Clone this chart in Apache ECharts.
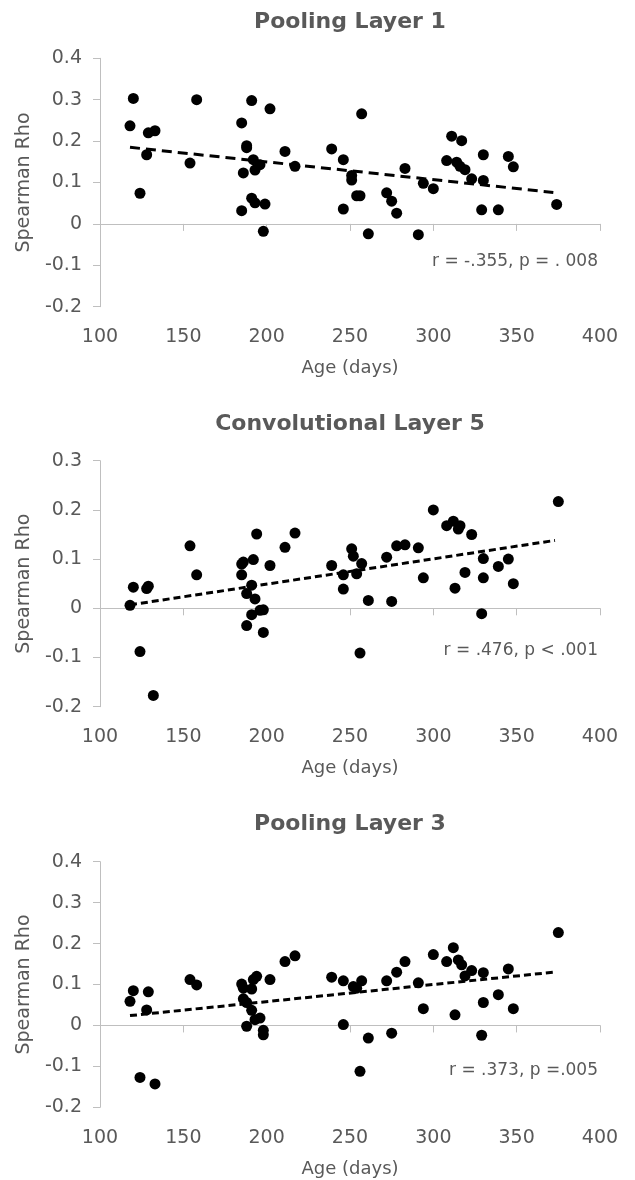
<!DOCTYPE html>
<html lang="en">
<head>
    <meta charset="UTF-8">
    <title>Spearman Rho by age</title>
    <style>
        html, body { margin: 0; padding: 0; background: #fff; }
    </style>
</head>
<body>
<script src="https://cdn.jsdelivr.net/npm/echarts@6/dist/echarts.min.js"></script>

<div id="main" style="width:635px;height:1180px;"></div>

<script type="text/javascript">

    // panel titles and stats text
    var titles = ['Pooling Layer 1', 'Convolutional Layer 5', 'Pooling Layer 3'];
    var statsText = ['r = -.355, p = . 008', 'r = .476, p < .001', 'r = .373, p =.005'];

    // Pooling Layer 1
    var age1 = [118, 120, 124, 128, 129, 133, 154, 158, 185, 185, 186, 188, 188, 191, 191, 192, 193, 193, 196, 198,
        199, 202, 211, 217, 239, 246, 246, 251, 251, 254, 256, 257, 261, 272, 275, 278, 283, 291, 294, 300,
        308, 311, 314, 316, 317, 319, 323, 329, 330, 330, 339, 345, 348, 374];
    var rho1 = [0.237, 0.303, 0.074, 0.167, 0.220, 0.225, 0.147, 0.300, 0.244, 0.032, 0.123, 0.189, 0.184, 0.298, 0.062, 0.155, 0.130, 0.051, 0.143, -0.018,
        0.048, 0.278, 0.175, 0.139, 0.181, 0.155, 0.036, 0.117, 0.106, 0.068, 0.068, 0.266, -0.024, 0.075, 0.055, 0.026, 0.134, -0.026, 0.098, 0.085,
        0.153, 0.212, 0.149, 0.139, 0.201, 0.131, 0.109, 0.034, 0.167, 0.105, 0.034, 0.163, 0.138, 0.047];
    var trend1 = [[118, 0.185], [372, 0.076]];

    // Convolutional Layer 5
    var age2 = [118, 120, 124, 128, 129, 132, 154, 158, 185, 186, 185, 188, 188, 191, 191, 192, 193, 194, 196, 198,
        198, 202, 211, 217, 239, 246, 246, 251, 252, 254, 256, 257, 261, 272, 275, 278, 283, 291, 294, 300,
        308, 312, 313, 315, 316, 319, 323, 329, 330, 330, 339, 345, 348, 375];
    var rho2 = [0.006, 0.043, -0.088, 0.040, 0.045, -0.177, 0.127, 0.068, 0.090, 0.094, 0.068, 0.030, -0.035, 0.047, -0.013, 0.099, 0.019, 0.151, -0.004, -0.003,
        -0.049, 0.087, 0.124, 0.153, 0.087, 0.068, 0.039, 0.121, 0.106, 0.070, -0.091, 0.091, 0.016, 0.104, 0.014, 0.127, 0.129, 0.123, 0.062, 0.200,
        0.168, 0.177, 0.041, 0.161, 0.168, 0.073, 0.150, -0.011, 0.101, 0.062, 0.085, 0.100, 0.050, 0.217];
    var trend2 = [[118, 0.007], [373, 0.138]];

    // Pooling Layer 3
    var age3 = [118, 120, 124, 128, 129, 133, 154, 158, 185, 186, 186, 188, 188, 191, 191, 192, 193, 194, 196, 198,
        198, 202, 211, 217, 239, 246, 246, 252, 254, 256, 257, 261, 272, 275, 278, 283, 291, 294, 300,
        308, 312, 313, 315, 317, 319, 323, 329, 330, 330, 339, 345, 348, 375];
    var rho3 = [0.059, 0.085, -0.127, 0.038, 0.082, -0.143, 0.112, 0.099, 0.101, 0.091, 0.065, 0.056, -0.002, 0.089, 0.037, 0.112, 0.014, 0.120, 0.018, -0.012,
        -0.023, 0.112, 0.156, 0.170, 0.118, 0.109, 0.002, 0.095, 0.091, -0.112, 0.109, -0.031, 0.109, -0.019, 0.130, 0.156, 0.104, 0.041, 0.173,
        0.156, 0.190, 0.026, 0.160, 0.148, 0.121, 0.134, -0.024, 0.129, 0.056, 0.075, 0.138, 0.041, 0.227];
    var trend3 = [[118, 0.024], [372, 0.130]];

    // y axis ranges per panel
    var yMin = [-0.2, -0.2, -0.2];
    var yMax = [0.4, 0.3, 0.4];

    function pairs(xs, ys) {
        var out = [];
        for (var i = 0; i < xs.length; i++) {
            out.push([xs[i], ys[i]]);
        }
        return out;
    }

    var ages = [age1, age2, age3];
    var rhos = [rho1, rho2, rho3];
    var trends = [trend1, trend2, trend3];

    var font = '"DejaVu Sans", Verdana, sans-serif';
    var textColor = '#595959';
    var axisColor = '#bfbfbf';

    var gridTops = [58.3, 460.7, 861.7];
    var gridHeights = [248.4, 246, 245.6];
    var titleY = [22, 424, 824];
    var statsY = [262, 651, 1071];
    var dashes = [[10, 6], [7, 4], [7, 4]];

    var grids = [], xAxes = [], yAxes = [], series = [], graphics = [];

    for (var k = 0; k < 3; k++) {
        grids.push({left: 100, width: 500, top: gridTops[k], height: gridHeights[k]});

        xAxes.push({
            type: 'value',
            gridIndex: k,
            min: 100,
            max: 400,
            interval: 50,
            name: 'Age (days)',
            nameLocation: 'middle',
            nameGap: 53,
            nameTextStyle: {color: textColor, fontSize: 18, fontFamily: font},
            splitLine: {show: false},
            axisLine: {show: true, lineStyle: {color: axisColor, width: 1}},
            axisTick: {show: true, length: 7, lineStyle: {color: axisColor}},
            axisLabel: {color: textColor, fontSize: 19, fontFamily: font, margin: 21}
        });

        yAxes.push({
            type: 'value',
            gridIndex: k,
            min: yMin[k],
            max: yMax[k],
            interval: 0.1,
            name: 'Spearman Rho',
            nameLocation: 'middle',
            nameGap: 66,
            nameTextStyle: {color: textColor, fontSize: 19, fontFamily: font},
            splitLine: {show: false},
            axisLine: {show: true, lineStyle: {color: axisColor, width: 1}},
            axisTick: {show: true, length: 7, lineStyle: {color: axisColor}},
            axisLabel: {
                color: textColor, fontSize: 19, fontFamily: font, margin: 18,
                formatter: function (v) {
                    return String(Math.round(v * 10) / 10);
                }
            }
        });

        series.push({
            type: 'scatter',
            xAxisIndex: k,
            yAxisIndex: k,
            symbolSize: 11,
            itemStyle: {color: '#000', opacity: 1},
            data: pairs(ages[k], rhos[k]),
            z: 3
        });

        series.push({
            type: 'line',
            xAxisIndex: k,
            yAxisIndex: k,
            symbol: 'none',
            lineStyle: {color: '#000', width: 3, type: dashes[k]},
            data: trends[k],
            z: 4
        });

        graphics.push({
            type: 'text',
            x: 350,
            y: titleY[k],
            style: {
                text: titles[k],
                fill: textColor,
                font: 'bold 22px ' + font,
                align: 'center',
                verticalAlign: 'middle'
            }
        });

        graphics.push({
            type: 'text',
            x: 598,
            y: statsY[k],
            style: {
                text: statsText[k],
                fill: textColor,
                font: '17px ' + font,
                align: 'right',
                verticalAlign: 'middle'
            }
        });
    }

    var option = {
        animation: false,
        backgroundColor: '#fff',
        grid: grids,
        xAxis: xAxes,
        yAxis: yAxes,
        series: series,
        graphic: graphics
    };

    var myChart = echarts.init(document.getElementById('main'));
    myChart.setOption(option);
</script>
</body>
</html>
